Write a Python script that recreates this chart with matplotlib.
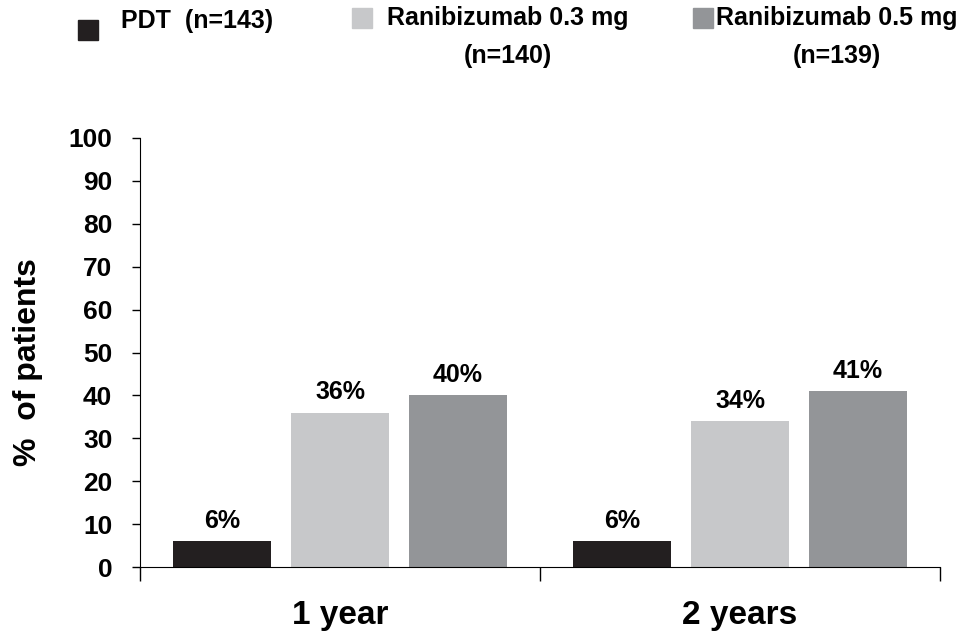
import numpy as np
import matplotlib
matplotlib.use('Agg')
import matplotlib.pyplot as plt
from matplotlib.patches import Rectangle

plt.rcParams['font.family'] = ['Liberation Sans', 'DejaVu Sans']
plt.rcParams['font.weight'] = 'bold'

categories = ['1 year', '2 years']
series_names = ['PDT  (n=143)', 'Ranibizumab 0.3 mg\n(n=140)', 'Ranibizumab 0.5 mg\n(n=139)']
colors = ['#231f20', '#c7c8ca', '#939598']
pdt = [6, 6]
rani03 = [36, 34]
rani05 = [40, 41]
values = [pdt, rani03, rani05]
yticks = list(range(0, 101, 10))

fig = plt.figure(figsize=(9.61, 6.31), dpi=100)
ax = fig.add_axes([0.1457, 0.1014, 0.8325, 0.6799])

x = np.arange(len(categories)) + 0.5
offsets = [-0.294, 0, 0.294]
width = 0.245
for vals, off, c in zip(values, offsets, colors):
    bars = ax.bar(x + off, vals, width, color=c)
    for b, v in zip(bars, vals):
        ax.text(b.get_x() + b.get_width() / 2, v + 2, f'{v}%', ha='center', va='bottom',
                fontsize=18, fontweight='bold')

ax.set_xlim(0, len(categories))
ax.set_ylim(0, 100)
ax.set_yticks(yticks)
ax.set_yticklabels([str(t) for t in yticks], fontsize=19, fontweight='bold')
ax.set_xticks(x)
ax.set_xticklabels(categories, fontsize=24, fontweight='bold')
ax.tick_params(axis='x', which='major', length=0, pad=24)
ax.set_xticks(np.arange(len(categories) + 1), minor=True)
ax.tick_params(axis='x', which='minor', length=10, width=1, direction='out')
ax.tick_params(axis='y', length=6, width=1, direction='out', pad=14)
for s in ['top', 'right']:
    ax.spines[s].set_visible(False)
ax.set_ylabel('%  of patients', fontsize=23, fontweight='bold')
ax.yaxis.set_label_coords(-0.121, 0.477)

# legend drawn by hand
sq_x = [0.081, 0.366, 0.721]
sq_y = [0.937, 0.956, 0.956]
txt_x = [0.126, 0.528, 0.871]
for name, c, sx, sy, tx in zip(series_names, colors, sq_x, sq_y, txt_x):
    fig.patches.append(Rectangle((sx, sy), 0.021, 0.032, transform=fig.transFigure,
                                 color=c, zorder=3))
    if '\n' in name:
        fig.text(tx, 0.99, name, ha='center', va='top', fontsize=18,
                 fontweight='bold', linespacing=1.7)
    else:
        fig.text(tx, 0.966, name, ha='left', va='center', fontsize=18, fontweight='bold')

fig.savefig('out.png', dpi=100)
